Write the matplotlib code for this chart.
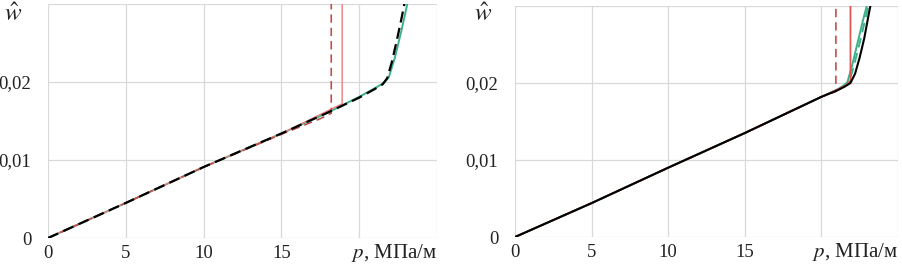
import matplotlib
matplotlib.use("Agg")
import matplotlib.pyplot as plt

plt.rcParams['font.family'] = ['Liberation Serif', 'DejaVu Serif']
plt.rcParams['mathtext.fontset'] = 'stix'

# Левая панель
p_l_black = [0, 5, 10, 15, 18, 20, 21, 21.5, 21.8, 22.1, 22.4, 22.7, 23.0]
w_l_black = [0, 0.0045, 0.0091, 0.0134, 0.0161, 0.0180, 0.0191, 0.0197, 0.0205, 0.0226, 0.0252, 0.0280, 0.0310]
p_l_green = [0, 5, 10, 15, 18, 20, 21, 21.6, 21.9, 22.3, 22.7, 23.0, 23.2]
w_l_green = [0, 0.0045, 0.0091, 0.0134, 0.0161, 0.0181, 0.0192, 0.0199, 0.0206, 0.0232, 0.0265, 0.0292, 0.0310]
p_l_red_d = [0, 5, 10, 15, 17.5, 18.2, 18.2]
w_l_red_d = [0, 0.0045, 0.0091, 0.0133, 0.0153, 0.0160, 0.035]
p_l_red_s = [0, 5, 10, 15, 18.9, 18.9]
w_l_red_s = [0, 0.0045, 0.0091, 0.0134, 0.0172, 0.035]

# Правая панель
p_r_black = [0, 5, 10, 15, 20, 21, 21.5, 21.9, 22.2, 22.5, 22.8, 23.1, 23.3]
w_r_black = [0, 0.0044, 0.0090, 0.0135, 0.0182, 0.0190, 0.0195, 0.0200, 0.0212, 0.0233, 0.0258, 0.0290, 0.0310]
p_r_green = [0, 5, 10, 15, 20, 21, 21.4, 21.7, 22.0, 22.4, 22.7, 23.0, 23.1]
w_r_green = [0, 0.0044, 0.0090, 0.0135, 0.0182, 0.0191, 0.0196, 0.0201, 0.0222, 0.0255, 0.0280, 0.0303, 0.0310]
p_r_green_d = [0, 5, 10, 15, 20, 21, 21.5, 21.8, 22.1, 22.5, 22.8, 23.1, 23.2]
w_r_green_d = [0, 0.0044, 0.0090, 0.0135, 0.0182, 0.0191, 0.0196, 0.0201, 0.0220, 0.0252, 0.0277, 0.0303, 0.0310]
p_r_red_d = [0, 5, 10, 15, 20, 20.95, 20.95]
w_r_red_d = [0, 0.0044, 0.0090, 0.0135, 0.0182, 0.0189, 0.035]
p_r_red_s = [0, 5, 10, 15, 20, 21, 21.6, 21.9, 21.9]
w_r_red_s = [0, 0.0044, 0.0090, 0.0135, 0.0182, 0.0191, 0.0197, 0.0203, 0.035]

x_ticks = [0, 5, 10, 15, 20, 25]
x_labels = ['0', '5', '10', '15', '', '']
y_ticks = [0, 0.01, 0.02, 0.03]
y_labels = ['0', '0,01', '0,02', '']

fig = plt.figure(figsize=(9.03, 2.70), dpi=100)
ax1 = fig.add_axes([0.0532, 0.1185, 0.4308, 0.8667])
ax2 = fig.add_axes([0.5703, 0.1222, 0.4241, 0.8556])

red_dark = '#c0504d'
red_light = '#ec7c7c'
green = '#3bb08a'

ax1.plot(p_l_green, w_l_green, color=green, lw=1.4)
ax1.plot(p_l_red_s, w_l_red_s, color=red_light, lw=1.0)
ax1.plot(p_l_red_d, w_l_red_d, color=red_dark, lw=1.2, ls=(0, (5, 3)))
ax1.plot(p_l_black, w_l_black, color='black', lw=1.6, ls=(0, (5, 2.5)))

ax2.plot(p_r_green, w_r_green, color=green, lw=1.4)
ax2.plot(p_r_green_d, w_r_green_d, color=green, lw=1.4, ls=(0, (5, 3)))
ax2.plot(p_r_red_s, w_r_red_s, color='#e05555', lw=1.3)
ax2.plot(p_r_red_d, w_r_red_d, color=red_dark, lw=1.2, ls=(0, (5, 3)))
ax2.plot(p_r_black, w_r_black, color='black', lw=1.5)

for ax, lab_x in [(ax1, 13), (ax2, 483)]:
    ax.set_xlim(0, 25)
    ax.set_ylim(0, 0.03)
    ax.set_xticks(x_ticks)
    ax.set_xticklabels(x_labels)
    ax.set_yticks(y_ticks)
    ax.set_yticklabels(y_labels)
    ax.grid(True, color='#d9d9d9', lw=0.9)
    ax.set_axisbelow(True)
    for s in ax.spines.values():
        s.set_visible(False)
    ax.tick_params(length=0, labelsize=13.5, colors='#222222')
    ax.tick_params(axis='y', pad=12)
    ax.tick_params(axis='x', pad=5)
    ax.text(1.0, -0.063, r'$p$, МПа/м', transform=ax.transAxes, ha='right', va='center',
            fontsize=15, color='#222222')
    fig.text(lab_x / 903, 1 - 15 / 270, r'$\hat{w}$', ha='center', va='center',
             fontsize=18, color='#222222')

fig.savefig('out.png', dpi=100)
